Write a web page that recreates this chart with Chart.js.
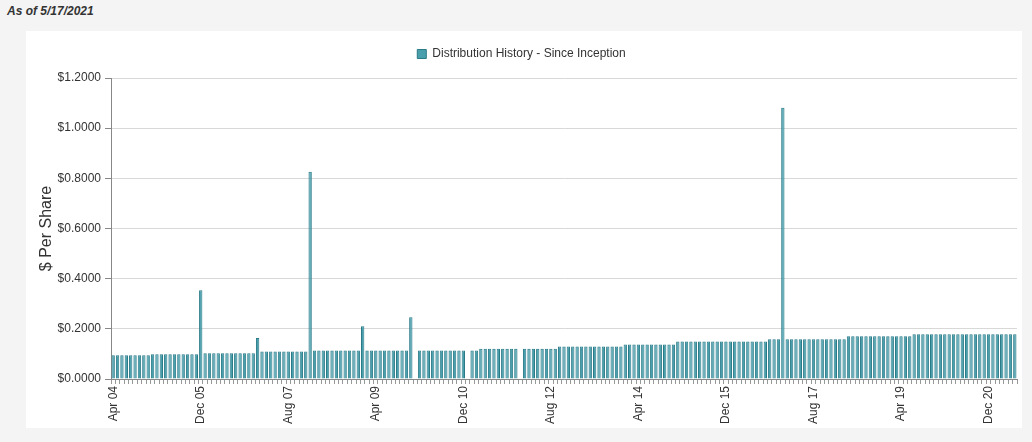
<!DOCTYPE html>
<html>
<head>
<meta charset="utf-8">
<script src="https://cdn.jsdelivr.net/npm/chart.js@4.4.0/dist/chart.umd.min.js"></script>
<style>
  html, body { margin: 0; padding: 0; background: #f4f4f4; }
  body { width: 1032px; height: 442px; position: relative; overflow: hidden; font-family: Arial, "Liberation Sans", sans-serif; }
  #asof { position: absolute; left: 7px; top: 4px; font-size: 12px; font-weight: bold; font-style: italic; color: #333; }
  #box { position: absolute; left: 26px; top: 31px; width: 996px; height: 397px; background: #fff; }
</style>
</head>
<body>
<div id="asof">As of 5/17/2021</div>
<div id="box"><canvas id="myChart"></canvas></div>
<script>
// Month labels, Apr 04 .. Jun 21
var monthNames = ['Jan', 'Feb', 'Mar', 'Apr', 'May', 'Jun', 'Jul', 'Aug', 'Sep', 'Oct', 'Nov', 'Dec'];
var firstYear = 2004, firstMonth = 3, monthCount = 207;
var categories = [];
for (var i = 0; i < monthCount; i++) {
    var m = (firstMonth + i) % 12;
    var y = firstYear + Math.floor((firstMonth + i) / 12);
    categories.push(monthNames[m] + ' ' + String(y).slice(2));
}

// Distribution per share, one value per month (null = no payment)
var distributions = [
    0.095, 0.095, 0.095, 0.095, 0.095, 0.095, 0.095, 0.095, 0.095,                  // Apr 04 - Dec 04
    0.099, 0.099, 0.099, 0.099, 0.099, 0.099, 0.099, 0.099, 0.099, 0.099, 0.099, 0.354, // 2005
    0.103, 0.103, 0.103, 0.103, 0.103, 0.103, 0.103, 0.103, 0.103, 0.103, 0.103, 0.103, // 2006
    0.163, 0.110, 0.110, 0.110, 0.110, 0.110, 0.110, 0.110, 0.110, 0.110, 0.110, 0.110, // 2007
    0.826, 0.114, 0.114, 0.114, 0.114, 0.114, 0.114, 0.114, 0.114, 0.114, 0.114, 0.114, // 2008
    0.210, 0.114, 0.114, 0.114, 0.114, 0.114, 0.114, 0.114, 0.114, 0.114, 0.114, 0.246, // 2009
    null,  0.114, 0.114, 0.114, 0.114, 0.114, 0.114, 0.114, 0.114, 0.114, 0.114, 0.114, // 2010
    null,  0.114, 0.114, 0.121, 0.121, 0.121, 0.121, 0.121, 0.121, 0.121, 0.121, 0.121, // 2011
    null,  0.121, 0.121, 0.121, 0.121, 0.121, 0.121, 0.121, 0.121, 0.130, 0.130, 0.130, // 2012
    0.130, 0.130, 0.130, 0.130, 0.130, 0.130, 0.130, 0.130, 0.130, 0.130, 0.130, 0.130, // 2013
    0.138, 0.138, 0.138, 0.138, 0.138, 0.138, 0.138, 0.138, 0.138, 0.138, 0.138, 0.138, // 2014
    0.150, 0.150, 0.150, 0.150, 0.150, 0.150, 0.150, 0.150, 0.150, 0.150, 0.150, 0.150, // 2015
    0.150, 0.150, 0.150, 0.150, 0.150, 0.150, 0.150, 0.150, 0.150, 0.158, 0.158, 0.158, // 2016
    1.081, 0.158, 0.158, 0.158, 0.158, 0.158, 0.158, 0.158, 0.158, 0.158, 0.158, 0.158, // 2017
    0.158, 0.158, 0.158, 0.170, 0.170, 0.170, 0.170, 0.170, 0.170, 0.170, 0.170, 0.170, // 2018
    0.170, 0.170, 0.170, 0.170, 0.170, 0.170, 0.178, 0.178, 0.178, 0.178, 0.178, 0.178, // 2019
    0.178, 0.178, 0.178, 0.178, 0.178, 0.178, 0.178, 0.178, 0.178, 0.178, 0.178, 0.178, // 2020
    0.178, 0.178, 0.178, 0.178, 0.178, 0.178                                           // Jan 21 - Jun 21
];

var yTicks = [0, 0.2, 0.4, 0.6, 0.8, 1.0, 1.2];
var labelEvery = 20;

var barFill = '#4a9fad';
var barEdge = '#2a7b88';

// extra space under the legend
var legendGap = {
    id: 'legendGap',
    afterInit: function (chart) {
        var fit = chart.legend.fit;
        chart.legend.fit = function () {
            fit.call(this);
            this.height += 8;
        };
    }
};

var ctx = document.getElementById('myChart').getContext('2d');
var myChart = new Chart(ctx, {
    type: 'bar',
    data: {
        labels: categories,
        datasets: [{
            label: 'Distribution History - Since Inception',
            data: distributions,
            backgroundColor: barFill,
            borderColor: barEdge,
            borderWidth: 1,
            barPercentage: 0.95,
            categoryPercentage: 0.8
        }]
    },
    plugins: [legendGap],
    options: {
        responsive: true,
        maintainAspectRatio: false,
        animation: false,
        layout: { padding: { left: 0, right: 5, top: 0, bottom: 0 } },
        plugins: {
            tooltip: { enabled: false },
            legend: {
                position: 'top',
                labels: {
                    boxWidth: 9,
                    boxHeight: 9,
                    padding: 17,
                    color: '#333',
                    font: { family: 'Arial, "Liberation Sans", sans-serif', size: 12 }
                }
            }
        },
        scales: {
            x: {
                grid: { drawOnChartArea: false, drawTicks: true, tickLength: 5, tickColor: '#999', offset: true },
                border: { color: '#888' },
                ticks: {
                    autoSkip: false,
                    maxRotation: 90,
                    minRotation: 90,
                    padding: 2,
                    color: '#333',
                    font: { family: 'Arial, "Liberation Sans", sans-serif', size: 12 },
                    callback: function (value, index) {
                        return index % labelEvery === 0 ? categories[index] : '';
                    }
                },
                afterFit: function (scale) {
                    scale.height = 49;
                    scale.paddingLeft = 0;
                    scale.paddingRight = 0;
                }
            },
            y: {
                min: yTicks[0],
                max: yTicks[yTicks.length - 1],
                afterBuildTicks: function (scale) {
                    scale.ticks = yTicks.map(function (v) { return { value: v }; });
                },
                grid: { color: '#d8d8d8', tickLength: 6, tickColor: '#888' },
                border: { color: '#888' },
                ticks: {
                    padding: 4,
                    color: '#333',
                    font: { family: 'Arial, "Liberation Sans", sans-serif', size: 12 },
                    callback: function (value) { return '$' + Number(value).toFixed(4); }
                },
                title: {
                    display: true,
                    text: '$ Per Share',
                    color: '#333',
                    padding: { top: 11, bottom: 0 },
                    font: { family: 'Arial, "Liberation Sans", sans-serif', size: 16 }
                },
                afterFit: function (scale) { scale.width = 85; }
            }
        }
    }
});
</script>
</body>
</html>
